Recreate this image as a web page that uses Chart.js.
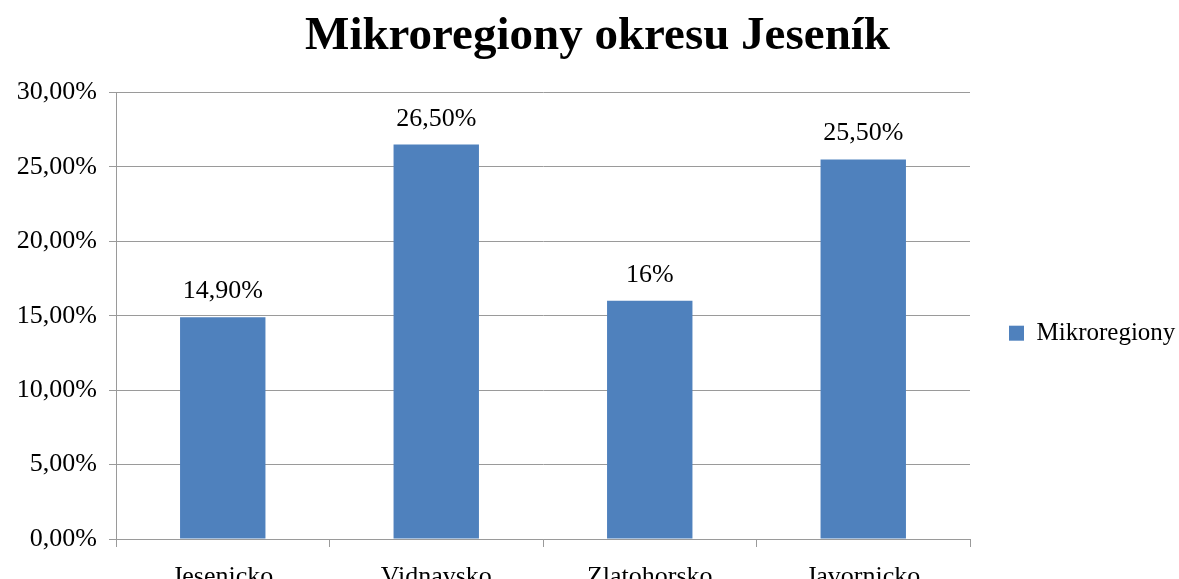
<!DOCTYPE html>
<html>
<head>
<meta charset="utf-8">
<script src="https://cdn.jsdelivr.net/npm/chart.js@4/dist/chart.umd.min.js"></script>
<style>
  html, body { margin: 0; padding: 0; background: #fff; overflow: hidden; }
  #chart { display: block; }
</style>
</head>
<body>
<canvas id="chart" width="1179" height="600" style="width:1179px;height:600px"></canvas>
<script>
// chart data
const categories = ['Jesenicko', 'Vidnavsko', 'Zlatohorsko', 'Javornicko'];
const values = [14.9, 26.5, 16, 25.5];
const valueLabels = ['14,90%', '26,50%', '16%', '25,50%'];
const yTickLabels = ['0,00%', '5,00%', '10,00%', '15,00%', '20,00%', '25,00%', '30,00%'];

const serif = '"Liberation Serif", "Times New Roman", serif';
const gridGray = '#9a9a9a';

// draws the value above each bar
const barValueLabels = {
    id: 'barValueLabels',
    afterDatasetsDraw(chart) {
        const ctx = chart.ctx;
        const meta = chart.getDatasetMeta(0);
        ctx.save();
        ctx.font = '26px ' + serif;
        ctx.fillStyle = '#000';
        ctx.textAlign = 'center';
        ctx.textBaseline = 'alphabetic';
        meta.data.forEach(function(bar, i) {
            ctx.fillText(valueLabels[i], bar.x, bar.y - 19);
        });
        ctx.restore();
    }
};

new Chart(document.getElementById('chart').getContext('2d'), {
    type: 'bar',
    data: {
        labels: categories,
        datasets: [{
            label: 'Mikroregiony',
            data: values,
            backgroundColor: '#4f81bd',
            borderWidth: 0,
            categoryPercentage: 1,
            barPercentage: 0.4
        }]
    },
    options: {
        responsive: false,
        animation: false,
        layout: { padding: { left: 16, right: 0, top: 0, bottom: 0 } },
        plugins: {
            title: {
                display: true,
                text: 'Mikroregiony okresu Jeseník',
                color: '#000',
                font: { family: serif, size: 47, weight: 'bold' },
                padding: { top: 9, bottom: 27 }
            },
            legend: {
                position: 'right',
                maxWidth: 209,
                // empty title only pushes the entry down a bit
                title: { display: true, text: '', padding: { top: 0, bottom: 52 } },
                labels: {
                    color: '#000',
                    font: { family: serif, size: 25 },
                    boxWidth: 15,
                    boxHeight: 15,
                    padding: 39
                }
            },
            tooltip: { enabled: false }
        },
        scales: {
            x: {
                grid: {
                    drawOnChartArea: false,
                    color: gridGray,
                    tickLength: 8
                },
                border: { color: gridGray },
                ticks: {
                    color: '#000',
                    font: { family: serif, size: 26 },
                    padding: 15,
                    maxRotation: 0
                },
                afterFit: function(s) { s.height = 600 - 539; }
            },
            y: {
                min: 0,
                max: 30,
                grid: { color: gridGray, tickLength: 7 },
                border: { color: gridGray },
                ticks: {
                    stepSize: 5,
                    color: '#000',
                    font: { family: serif, size: 26 },
                    padding: 12,
                    callback: function(v) { return yTickLabels[Math.round(v / 5)]; }
                },
                afterFit: function(s) { s.width = 100; }
            }
        }
    },
    plugins: [barValueLabels]
});
</script>
</body>
</html>
